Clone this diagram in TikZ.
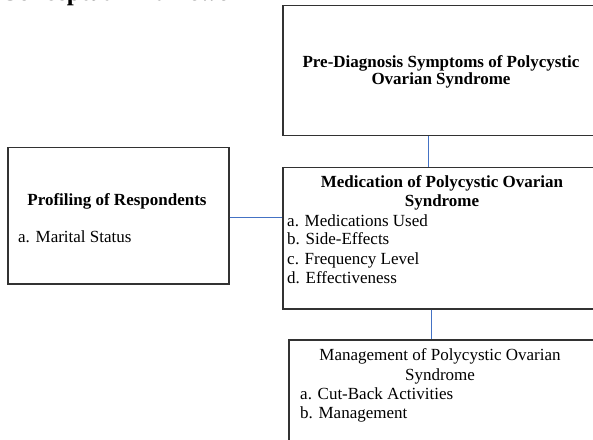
\documentclass[tikz,border=0pt]{standalone}
\usepackage{fontspec}
\setmainfont{Liberation Serif}
\definecolor{boxgray}{RGB}{50,50,50}
\definecolor{linkblue}{RGB}{68,114,196}
\begin{document}
\begin{tikzpicture}[x=1pt,y=1pt,
  box/.style={draw=boxgray,line width=1.5pt,rectangle,inner sep=0pt,anchor=north west},
  link/.style={draw=linkblue,line width=0.9pt},
  txt/.style={font=\fontsize{17}{19}\selectfont,inner sep=0pt,anchor=base},
  btxt/.style={font=\fontsize{17}{19}\selectfont\bfseries,inner sep=0pt,anchor=base},
  ltxt/.style={font=\fontsize{17}{19}\selectfont,inner sep=0pt,anchor=base west}]
\useasboundingbox (0,0) rectangle (593,439);
\clip (0,0) rectangle (593,439);
% heading (cut off at top)
\node[font=\fontsize{25}{28}\selectfont\bfseries,inner sep=0pt,anchor=base west] (head) at (0,438) {Conceptual Framework};
% boxes
\node[box,minimum width=320,minimum height=130] (top) at (282,434) {};
\node[box,minimum width=320,minimum height=141] (mid) at (282,272) {};
\node[box,minimum width=221,minimum height=136] (left) at (7,292) {};
\node[box,minimum width=307,minimum height=130] (bot) at (288,100) {};
% top text
\node[btxt] (t1) at (441,371) {Pre-Diagnosis Symptoms of Polycystic};
\node[btxt] (t2) at (441,354) {Ovarian Syndrome};
% left text
\node[btxt] (l1) at (117,233) {Profiling of Respondents};
\node[ltxt] (l2) at (18,196) {a. Marital Status};
% middle text
\node[btxt] (m1) at (442,251) {Medication of Polycystic Ovarian};
\node[btxt] (m2) at (442,232) {Syndrome};
\node[ltxt] (m3) at (287,212) {a. Medications Used};
\node[ltxt] (m4) at (287,194) {b. Side-Effects};
\node[ltxt] (m5) at (287,175) {c. Frequency Level};
\node[ltxt] (m6) at (287,156) {d. Effectiveness};
% bottom text
\node[txt] (b1) at (440,79) {Management of Polycystic Ovarian};
\node[txt] (b2) at (440,59) {Syndrome};
\node[ltxt] (b3) at (300,40) {a. Cut-Back Activities};
\node[ltxt] (b4) at (300,21) {b. Management};
% connectors
\coordinate (c1) at (428,0);
\coordinate (c2) at (0,222);
\coordinate (c3) at (431,0);
\draw[link] (c1 |- top.south) -- (c1 |- mid.north);
\draw[link] (left.east |- c2) -- (mid.west |- c2);
\draw[link] (c3 |- mid.south) -- (c3 |- bot.north);
\end{tikzpicture}
\end{document}
